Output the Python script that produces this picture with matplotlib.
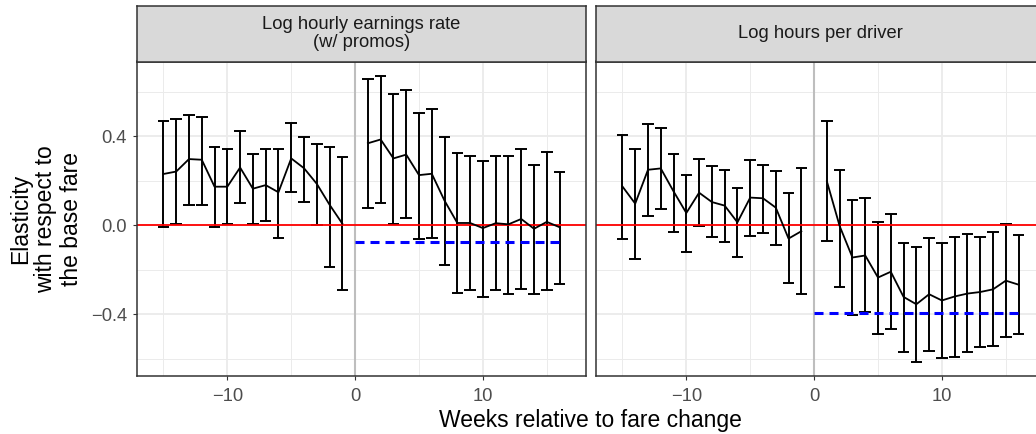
import matplotlib
matplotlib.use("Agg")
import matplotlib.pyplot as plt
import numpy as np

plt.rcParams['font.family'] = ['Liberation Sans', 'DejaVu Sans']
plt.rcParams['axes.unicode_minus'] = True
plt.rcParams['lines.scale_dashes'] = False

# ---------------- data ----------------
panel_titles = ["Log hourly earnings rate\n(w/ promos)", "Log hours per driver"]

weeks_pre = [-15, -14, -13, -12, -11, -10, -9, -8, -7, -6, -5, -4, -3, -2, -1]
weeks_post = [1, 2, 3, 4, 5, 6, 7, 8, 9, 10, 11, 12, 13, 14, 15, 16]

earn_pre_est = [0.230, 0.241, 0.297, 0.294, 0.173, 0.173, 0.259, 0.164, 0.180, 0.148, 0.300, 0.256, 0.186, 0.092, 0.007]
earn_pre_lo = [-0.010, 0.004, 0.092, 0.092, -0.010, 0.004, 0.100, 0.007, 0.019, -0.057, 0.148, 0.103, 0.000, -0.189, -0.292]
earn_pre_hi = [0.468, 0.477, 0.495, 0.487, 0.353, 0.344, 0.423, 0.319, 0.341, 0.344, 0.459, 0.398, 0.365, 0.349, 0.305]

earn_post_est = [0.368, 0.385, 0.300, 0.317, 0.225, 0.231, 0.110, 0.010, 0.010, -0.013, 0.009, 0.004, 0.028, -0.016, 0.015, -0.009]
earn_post_lo = [0.077, 0.100, 0.007, 0.034, -0.061, -0.058, -0.180, -0.304, -0.292, -0.323, -0.291, -0.310, -0.285, -0.310, -0.292, -0.265]
earn_post_hi = [0.656, 0.671, 0.590, 0.605, 0.505, 0.520, 0.396, 0.325, 0.313, 0.289, 0.311, 0.311, 0.344, 0.271, 0.328, 0.237]

hours_pre_est = [0.174, 0.097, 0.249, 0.255, 0.152, 0.055, 0.146, 0.104, 0.088, 0.013, 0.124, 0.121, 0.079, -0.060, -0.027]
hours_pre_lo = [-0.060, -0.154, 0.043, 0.072, -0.030, -0.119, -0.004, -0.051, -0.076, -0.145, -0.049, -0.033, -0.091, -0.261, -0.307]
hours_pre_hi = [0.404, 0.343, 0.456, 0.435, 0.322, 0.224, 0.298, 0.264, 0.249, 0.168, 0.294, 0.271, 0.244, 0.145, 0.255]

hours_post_est = [0.197, -0.004, -0.145, -0.136, -0.235, -0.209, -0.322, -0.355, -0.310, -0.338, -0.320, -0.307, -0.300, -0.288, -0.249, -0.267]
hours_post_lo = [-0.073, -0.277, -0.402, -0.392, -0.490, -0.465, -0.568, -0.613, -0.563, -0.596, -0.593, -0.571, -0.547, -0.542, -0.504, -0.490]
hours_post_hi = [0.469, 0.249, 0.113, 0.124, 0.015, 0.049, -0.079, -0.098, -0.058, -0.080, -0.051, -0.039, -0.051, -0.031, 0.007, -0.042]

long_run = [-0.0775, -0.396]

x_major = [-10, 0, 10]
x_minor = [-15, -5, 5, 15]
y_major = [-0.4, 0.0, 0.4]
y_minor = [-0.6, -0.2, 0.2, 0.6]
y_labels = ["\u22120.4", "0.0", "0.4"]

x_title = "Weeks relative to fare change"
y_title = "Elasticity\nwith respect to\nthe base fare"

panels = [
    (earn_pre_est, earn_pre_lo, earn_pre_hi, earn_post_est, earn_post_lo, earn_post_hi),
    (hours_pre_est, hours_pre_lo, hours_pre_hi, hours_post_est, hours_post_lo, hours_post_hi),
]

# ---------------- figure ----------------
W, H = 1036, 434
fig = plt.figure(figsize=(W / 100, H / 100), dpi=100)
fig.patch.set_facecolor('white')


def px_axes(x0, y0, x1, y1):
    return fig.add_axes([x0 / W, 1 - y1 / H, (x1 - x0) / W, (y1 - y0) / H])


half = 0.45
all_w = weeks_pre + weeks_post
xmin, xmax = min(all_w) - half, max(all_w) + half
xr = xmax - xmin
xlim = (xmin - 0.05 * xr, xmax + 0.05 * xr)
all_lo = earn_pre_lo + earn_post_lo + hours_pre_lo + hours_post_lo
all_hi = earn_pre_hi + earn_post_hi + hours_pre_hi + hours_post_hi
ymin, ymax = min(all_lo), max(all_hi)
yr = ymax - ymin
ylim = (ymin - 0.05 * yr, ymax + 0.05 * yr)

panel_top, panel_bot = 61.5, 376.0
strip_top = 5.7
lefts = [137.3, 596.3]
pw = 448.4

border_col = '#333333'
for i, (pre_e, pre_l, pre_h, post_e, post_l, post_h) in enumerate(panels):
    x0 = lefts[i]
    ax = px_axes(x0, panel_top, x0 + pw, panel_bot)
    ax.set_xlim(*xlim)
    ax.set_ylim(*ylim)
    ax.set_facecolor('white')
    ax.set_xticks(x_major)
    ax.set_xticks(x_minor, minor=True)
    ax.set_yticks(y_major)
    ax.set_yticks(y_minor, minor=True)
    ax.grid(which='major', color='#EBEBEB', lw=1.3, zorder=0)
    ax.grid(which='minor', color='#EBEBEB', lw=0.7, zorder=0)
    ax.set_axisbelow(True)
    for s in ax.spines.values():
        s.set_color(border_col)
        s.set_linewidth(1.1)
        s.set_zorder(10)
    ax.tick_params(which='minor', length=0)
    ax.tick_params(which='major', direction='out', length=3.0, width=0.8,
                   color=border_col, labelsize=13.2, labelcolor='#4D4D4D')
    ax.tick_params(axis='x', pad=5.5)
    ax.tick_params(axis='y', pad=4.5)
    ax.set_xticklabels([f"{v:d}".replace('-', '\u2212') for v in x_major])
    if i == 0:
        ax.set_yticklabels(y_labels)
    else:
        ax.tick_params(axis='y', which='both', left=False, labelleft=False)

    ax.axvline(0, color='#BEBEBE', lw=1.5, zorder=1)
    ax.axhline(0, color='#FF0000', lw=1.3, zorder=3)

    for wk, e, lo, hi in [(weeks_pre, pre_e, pre_l, pre_h), (weeks_post, post_e, post_l, post_h)]:
        wk = np.array(wk, float)
        ax.vlines(wk, lo, hi, color='black', lw=1.4, zorder=2)
        ax.hlines(lo, wk - half, wk + half, color='black', lw=1.4, zorder=2)
        ax.hlines(hi, wk - half, wk + half, color='black', lw=1.4, zorder=2)
        ax.plot(wk, e, color='black', lw=1.3, zorder=4)

    ax.plot([0, weeks_post[-1]], [long_run[i], long_run[i]], color='#0000FF', lw=2.2,
            dashes=(6.5, 4.3), zorder=5, solid_capstyle='butt', dash_capstyle='butt')

    # strip
    sx = px_axes(x0, strip_top, x0 + pw, panel_top)
    sx.set_facecolor('#D9D9D9')
    sx.set_xticks([])
    sx.set_yticks([])
    for s in sx.spines.values():
        s.set_color(border_col)
        s.set_linewidth(1.1)
    sx.text(0.5, 0.5, panel_titles[i], ha='center', va='center', fontsize=13.2,
            color='#1A1A1A', linespacing=1.12, transform=sx.transAxes)

fig.text(590 / W, 1 - 421 / H, x_title, ha='center', va='center', fontsize=16.5, color='black')
fig.text(46 / W, 1 - 219 / H, y_title, ha='center', va='center', rotation=90,
         fontsize=16.5, color='black', multialignment='center', linespacing=1.12)

fig.savefig('out.png', dpi=100, facecolor='white')
